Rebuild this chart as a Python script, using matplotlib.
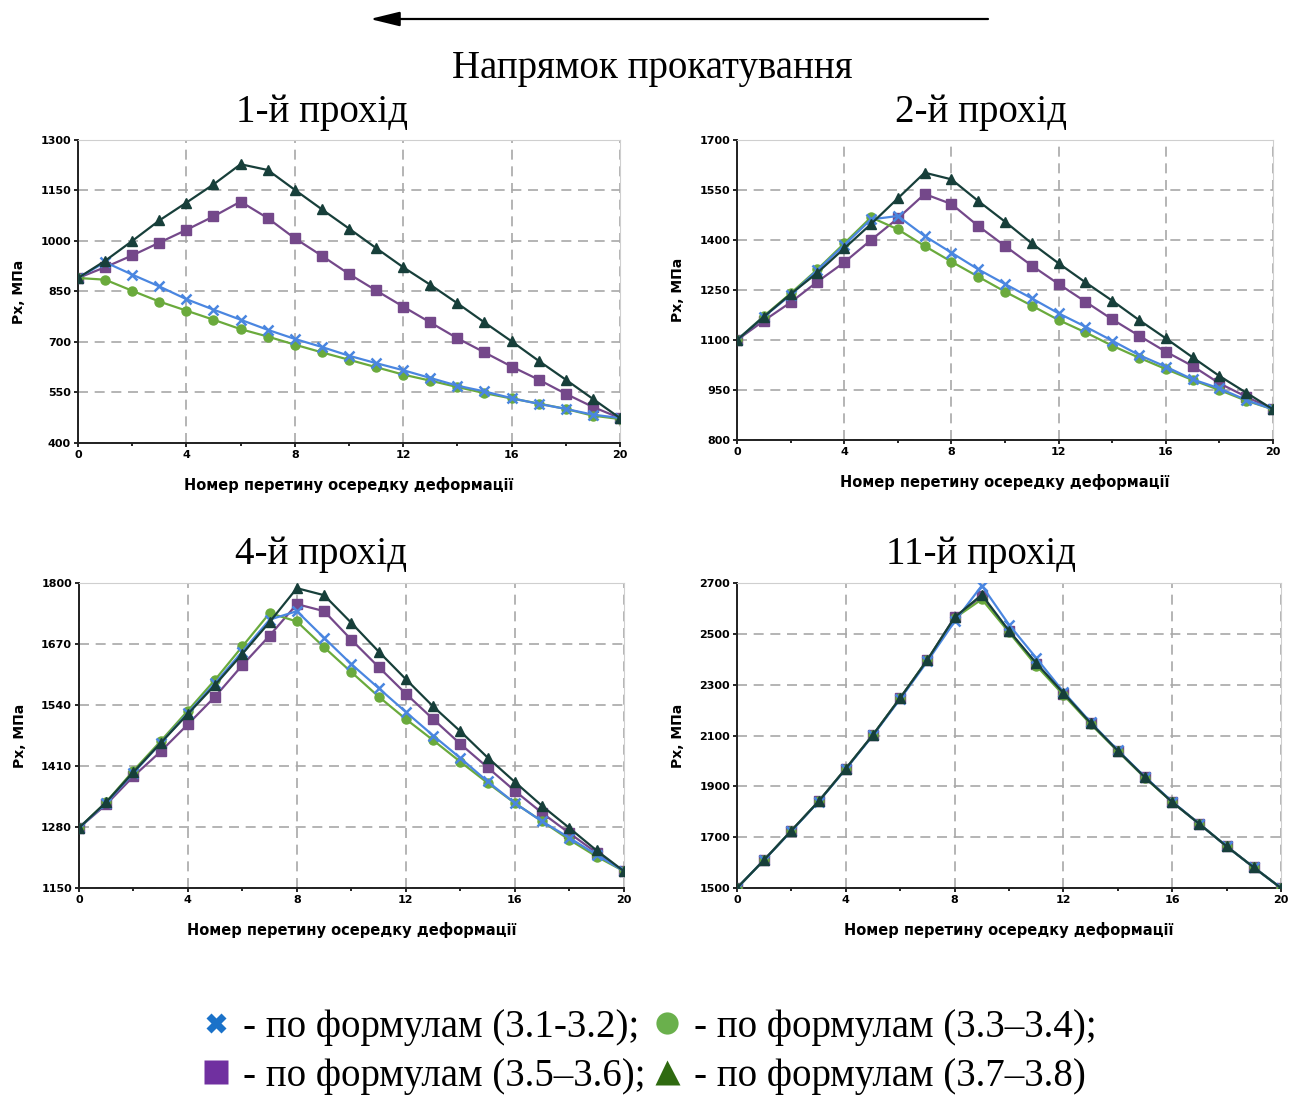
import matplotlib
matplotlib.use('Agg')
import matplotlib.pyplot as plt
from matplotlib.lines import Line2D
from matplotlib.ticker import MultipleLocator
import numpy as np


SECTIONS = np.arange(21)  # cross-section number along the deformation zone

PASS_TITLES = ['1-й прохід', '2-й прохід', '4-й прохід', '11-й прохід']

# Px, MPa for each pass: formulas (3.1-3.2), (3.3-3.4), (3.5-3.6), (3.7-3.8)
P1_F31 = [890, 937, 900, 865, 827, 796, 766, 736, 709, 685, 659, 637, 616, 593, 570, 553, 533, 516, 501, 484, 474]
P1_F33 = [890, 885, 852, 820, 793, 766, 738, 716, 692, 669, 647, 625, 603, 585, 566, 548, 532, 517, 501, 481, 471]
P1_F35 = [890, 922, 957, 995, 1033, 1073, 1117, 1068, 1008, 956, 902, 853, 805, 758, 711, 669, 627, 588, 546, 507, 474]
P1_F37 = [890, 941, 1000, 1061, 1114, 1168, 1228, 1211, 1152, 1094, 1037, 979, 922, 870, 815, 758, 702, 644, 588, 531, 474]

P2_F31 = [1100, 1170, 1235, 1310, 1385, 1462, 1472, 1412, 1362, 1312, 1268, 1225, 1180, 1140, 1098, 1055, 1020, 982, 955, 920, 892]
P2_F33 = [1100, 1172, 1240, 1312, 1390, 1468, 1432, 1382, 1335, 1290, 1245, 1203, 1160, 1123, 1083, 1047, 1013, 980, 950, 918, 892]
P2_F35 = [1100, 1158, 1213, 1275, 1333, 1400, 1465, 1538, 1508, 1442, 1382, 1323, 1268, 1215, 1162, 1113, 1065, 1022, 970, 930, 892]
P2_F37 = [1100, 1170, 1238, 1302, 1375, 1448, 1525, 1602, 1582, 1517, 1455, 1390, 1330, 1273, 1218, 1160, 1105, 1048, 992, 942, 892]

P4_F31 = [1278, 1331, 1395, 1459, 1523, 1587, 1654, 1722, 1740, 1683, 1627, 1576, 1525, 1475, 1427, 1377, 1331, 1292, 1257, 1221, 1186]
P4_F33 = [1278, 1333, 1400, 1463, 1528, 1594, 1665, 1736, 1718, 1663, 1610, 1558, 1510, 1465, 1419, 1374, 1331, 1292, 1253, 1217, 1186]
P4_F35 = [1278, 1328, 1388, 1441, 1499, 1558, 1625, 1688, 1755, 1740, 1679, 1621, 1564, 1510, 1457, 1407, 1357, 1310, 1267, 1225, 1186]
P4_F37 = [1278, 1333, 1397, 1459, 1521, 1583, 1649, 1717, 1789, 1774, 1715, 1654, 1595, 1537, 1484, 1428, 1376, 1325, 1278, 1230, 1186]

P11_F31 = [1500, 1611, 1724, 1840, 1968, 2101, 2244, 2392, 2549, 2690, 2536, 2405, 2272, 2152, 2042, 1937, 1840, 1752, 1664, 1581, 1500]
P11_F33 = [1500, 1611, 1726, 1841, 1970, 2103, 2248, 2398, 2562, 2636, 2506, 2375, 2260, 2145, 2038, 1933, 1838, 1752, 1664, 1581, 1500]
P11_F35 = [1500, 1611, 1726, 1841, 1970, 2103, 2248, 2398, 2565, 2648, 2510, 2382, 2265, 2148, 2040, 1935, 1838, 1752, 1664, 1581, 1500]
P11_F37 = [1500, 1611, 1726, 1841, 1970, 2103, 2248, 2398, 2565, 2654, 2512, 2385, 2267, 2149, 2040, 1935, 1838, 1752, 1664, 1581, 1500]

Y_LIMITS = [(400, 1300), (800, 1700), (1150, 1800), (1500, 2700)]
Y_STEPS = [150, 150, 130, 200]

LEGEND_LABELS = ['- по формулам (3.1-3.2);', '- по формулам (3.3–3.4);',
                 '- по формулам (3.5–3.6);', '- по формулам (3.7–3.8)']

panels = [
    (P1_F31, P1_F33, P1_F35, P1_F37),
    (P2_F31, P2_F33, P2_F35, P2_F37),
    (P4_F31, P4_F33, P4_F35, P4_F37),
    (P11_F31, P11_F33, P11_F35, P11_F37),
]

# axes boxes in figure fractions: left, bottom, width, height
boxes = [
    (0.0598, 0.597, 0.4152, 0.2756),
    (0.5648, 0.5996, 0.4107, 0.2730),
    (0.0605, 0.192, 0.4175, 0.2775),
    (0.5648, 0.192, 0.4168, 0.2775),
]
# title centres (figure fractions)
title_pos = [(0.247, 0.898), (0.752, 0.898), (0.246, 0.495), (0.752, 0.495)]

C_BLUE = '#4a86e0'
C_GREEN = '#6aaa3c'
C_PURPLE = '#74488a'
C_DARK = '#173f3a'

fig = plt.figure(figsize=(13.05, 10.99), dpi=100)

for box, series, title, tpos, ylim, ystep in zip(boxes, panels, PASS_TITLES, title_pos,
                                                  Y_LIMITS, Y_STEPS):
    f31, f33, f35, f37 = series
    ax = fig.add_axes(box)
    ax.plot(SECTIONS, f35, color=C_PURPLE, lw=1.6, marker='s', ms=6.5, zorder=3)
    ax.plot(SECTIONS, f33, color=C_GREEN, lw=1.6, marker='o', ms=6.5, zorder=4)
    ax.plot(SECTIONS, f31, color=C_BLUE, lw=1.6, marker='x', ms=7, mew=1.8, zorder=5)
    ax.plot(SECTIONS, f37, color=C_DARK, lw=1.6, marker='^', ms=7, zorder=6)

    ax.set_xlim(0, 20)
    ax.set_ylim(*ylim)
    ax.xaxis.set_major_locator(MultipleLocator(4))
    ax.xaxis.set_minor_locator(MultipleLocator(2))
    ax.set_yticks(np.arange(ylim[0], ylim[1] + 1, ystep))
    ax.grid(True, which='major', color='#a8a8a8', ls=(0, (6, 4)), lw=1.2)
    ax.set_axisbelow(True)

    for side in ('top', 'right'):
        ax.spines[side].set_color('#cfcfcf')
    for side in ('left', 'bottom'):
        ax.spines[side].set_color('#202020')
        ax.spines[side].set_linewidth(1.4)
    ax.tick_params(which='major', length=3, width=1.2, labelsize=8, pad=2)
    ax.tick_params(which='minor', length=2, width=1.2)
    for lab in ax.get_xticklabels() + ax.get_yticklabels():
        lab.set_fontweight('bold')

    ax.set_xlabel('Номер перетину осередку деформації', fontsize=10.5,
                  fontweight='bold', labelpad=12)
    ax.set_ylabel('Px, МПа', fontsize=10, fontweight='bold', labelpad=10)
    fig.text(tpos[0], tpos[1], title, ha='center', va='center',
             fontsize=28, family='Liberation Serif')

# rolling direction arrow
fig.text(0.500, 0.938, 'Напрямок прокатування', ha='center', va='center',
         fontsize=28, family='Liberation Serif')
plt.annotate('', xy=(370 / 1305, 1 - 19 / 1099), xytext=(988 / 1305, 1 - 19 / 1099),
             xycoords='figure fraction', textcoords='figure fraction',
             arrowprops=dict(arrowstyle='-|>,head_length=0.9,head_width=0.22',
                             color='black', lw=1.6, mutation_scale=20,
                             shrinkA=0, shrinkB=0))

handles = [
    Line2D([], [], ls='none', marker='X', ms=14, color='#1b72c9', mec='none'),
    Line2D([], [], ls='none', marker='s', ms=17, color='#7030a0', mec='none'),
    Line2D([], [], ls='none', marker='o', ms=16, color='#6ab04c', mec='none'),
    Line2D([], [], ls='none', marker='^', ms=18, color='#2f6a10', mec='none'),
]
labels = [LEGEND_LABELS[0], LEGEND_LABELS[2], LEGEND_LABELS[1], LEGEND_LABELS[3]]
fig.legend(handles, labels, ncol=2, loc='center', bbox_to_anchor=(0.497, 0.043),
           frameon=False, prop={'family': 'Liberation Serif', 'size': 28},
           handlelength=0.8, handletextpad=0.3, columnspacing=0.15,
           labelspacing=0.3, borderpad=0)

fig.savefig('out.png', dpi=100, facecolor='white')
